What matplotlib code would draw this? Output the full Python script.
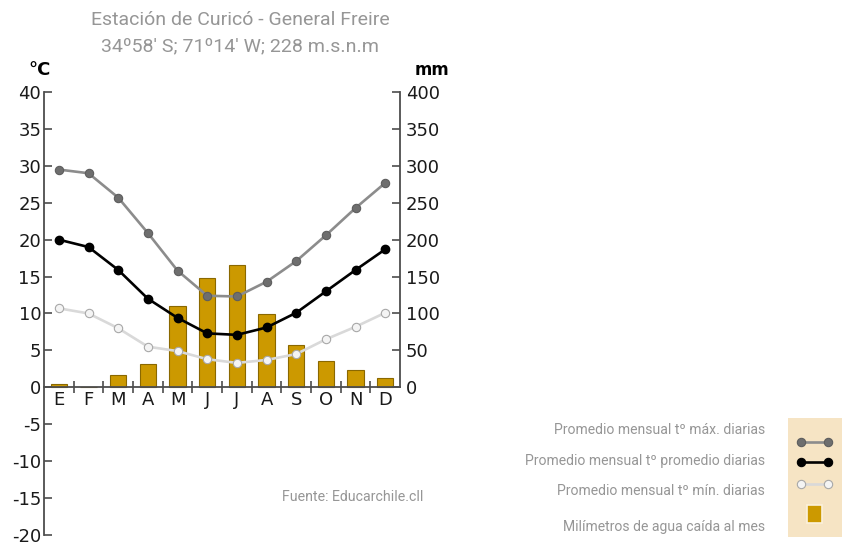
import numpy as np
import matplotlib.pyplot as plt
from matplotlib.patches import Rectangle

months = ['E', 'F', 'M', 'A', 'M', 'J', 'J', 'A', 'S', 'O', 'N', 'D']
t_max = [29.5, 29.0, 25.7, 20.9, 15.8, 12.4, 12.3, 14.3, 17.1, 20.6, 24.3, 27.7]
t_mean = [20.0, 19.0, 15.9, 12.0, 9.4, 7.3, 7.1, 8.1, 10.1, 13.0, 15.9, 18.7]
t_min = [10.7, 10.0, 8.0, 5.5, 4.9, 3.8, 3.3, 3.7, 4.5, 6.5, 8.2, 10.1]
precip = [4, 1, 16, 32, 110, 148, 166, 99, 57, 36, 24, 12]

legend_labels = ['Promedio mensual tº máx. diarias',
                 'Promedio mensual tº promedio diarias',
                 'Promedio mensual tº mín. diarias',
                 'Milímetros de agua caída al mes']

spine_c = '#4d4d4d'
bar_c = '#cc9900'
bar_edge = '#8a6800'
text_gray = '#969696'
tick_font = 'DejaVu Sans'

fig = plt.figure(figsize=(8.46, 5.48), dpi=100)
ax = fig.add_axes([0.052, 0.024, 0.421, 0.808])
ax2 = ax.twinx()

x = np.arange(len(months))

# precipitation bars on the right axis
ax2.bar(x, precip, width=0.55, color=bar_c, edgecolor=bar_edge, linewidth=0.8, zorder=1)
ax2.set_ylim(-200, 400)
ax2.set_zorder(1)
ax.set_zorder(2)
ax.patch.set_visible(False)

ax.plot(x, t_max, color='#8c8c8c', lw=1.9, marker='o', ms=6,
        mfc='#6e6e6e', mec='#5e5e5e', mew=0.8)
ax.plot(x, t_mean, color='black', lw=1.9, marker='o', ms=6,
        mfc='black', mec='black')
ax.plot(x, t_min, color='#d9d9d9', lw=1.9, marker='o', ms=6,
        mfc='#f4f4f4', mec='#a8a8a8', mew=0.8)

ax.set_xlim(-0.5, 11.5)
ax.set_ylim(-20, 40)
ax.set_yticks(np.arange(-20, 41, 5))
ax.set_yticklabels([str(v) for v in range(-20, 41, 5)])
ax.tick_params(axis='y', direction='in', length=6, width=1.2, color=spine_c,
               labelsize=13, pad=2, labelcolor='#1a1a1a')
for lab in ax.get_yticklabels():
    lab.set_fontfamily(tick_font)

ax.spines['top'].set_visible(False)
ax.spines['right'].set_visible(False)
ax.spines['left'].set_color(spine_c)
ax.spines['left'].set_linewidth(1.3)
ax.spines['bottom'].set_position(('data', 0))
ax.spines['bottom'].set_color(spine_c)
ax.spines['bottom'].set_linewidth(1.3)

ax.set_xticks(x)
ax.set_xticklabels(months)
ax.set_xticks(np.arange(0.5, 11, 1), minor=True)
ax.tick_params(axis='x', which='major', length=0, labelsize=13, pad=3,
               labelcolor='#1a1a1a')
ax.tick_params(axis='x', which='minor', direction='inout', length=8, width=1.2,
               color=spine_c)

ax2.set_yticks(np.arange(0, 401, 50))
ax2.tick_params(axis='y', direction='in', length=6, width=1.2, color=spine_c,
                labelsize=13, pad=4, labelcolor='#1a1a1a')
for s in ['top', 'left', 'bottom']:
    ax2.spines[s].set_visible(False)
ax2.spines['right'].set_bounds(0, 400)
ax2.spines['right'].set_color(spine_c)
ax2.spines['right'].set_linewidth(1.3)

fig.text(0.047, 0.872, '°C', ha='center', va='center', fontsize=13, fontweight='bold')
fig.text(0.511, 0.872, 'mm', ha='center', va='center', fontsize=12, fontweight='bold')

fig.text(0.284, 0.964, 'Estación de Curicó - General Freire', ha='center', va='center',
         fontsize=14, color=text_gray, family='Roboto')
fig.text(0.284, 0.916, "34º58' S; 71º14' W; 228 m.s.n.m", ha='center', va='center',
         fontsize=14, color=text_gray, family='Roboto')
fig.text(0.333, 0.093, 'Fuente: Educarchile.cll', ha='left', va='center',
         fontsize=10.2, color=text_gray, family='Roboto')

# legend
ys = [0.215, 0.159, 0.104, 0.038]
for yy, lab in zip(ys, legend_labels):
    fig.text(0.904, yy, lab, ha='right', va='center', fontsize=10.1,
             color=text_gray, family='Roboto')

lax = fig.add_axes([0.931, 0.020, 0.064, 0.217])
lax.set_facecolor('#f6e4c4')
lax.set_xlim(0, 1)
lax.set_ylim(0, 1)
lax.set_xticks([])
lax.set_yticks([])
for s in lax.spines.values():
    s.set_visible(False)
icon_y = [0.80, 0.63, 0.45]
styles = [('#8c8c8c', '#6e6e6e', '#5e5e5e'),
          ('black', 'black', 'black'),
          ('#d9d9d9', '#f4f4f4', '#a8a8a8')]
for yy, (lc, fc, ec) in zip(icon_y, styles):
    lax.plot([0.25, 0.75], [yy, yy], color=lc, lw=1.9, marker='o', ms=6,
             mfc=fc, mec=ec, mew=0.8)
lax.add_patch(Rectangle((0.36, 0.12), 0.28, 0.15, facecolor=bar_c,
                        edgecolor='#fbf1dc', linewidth=1.2))

fig.savefig('out.png', dpi=100)
